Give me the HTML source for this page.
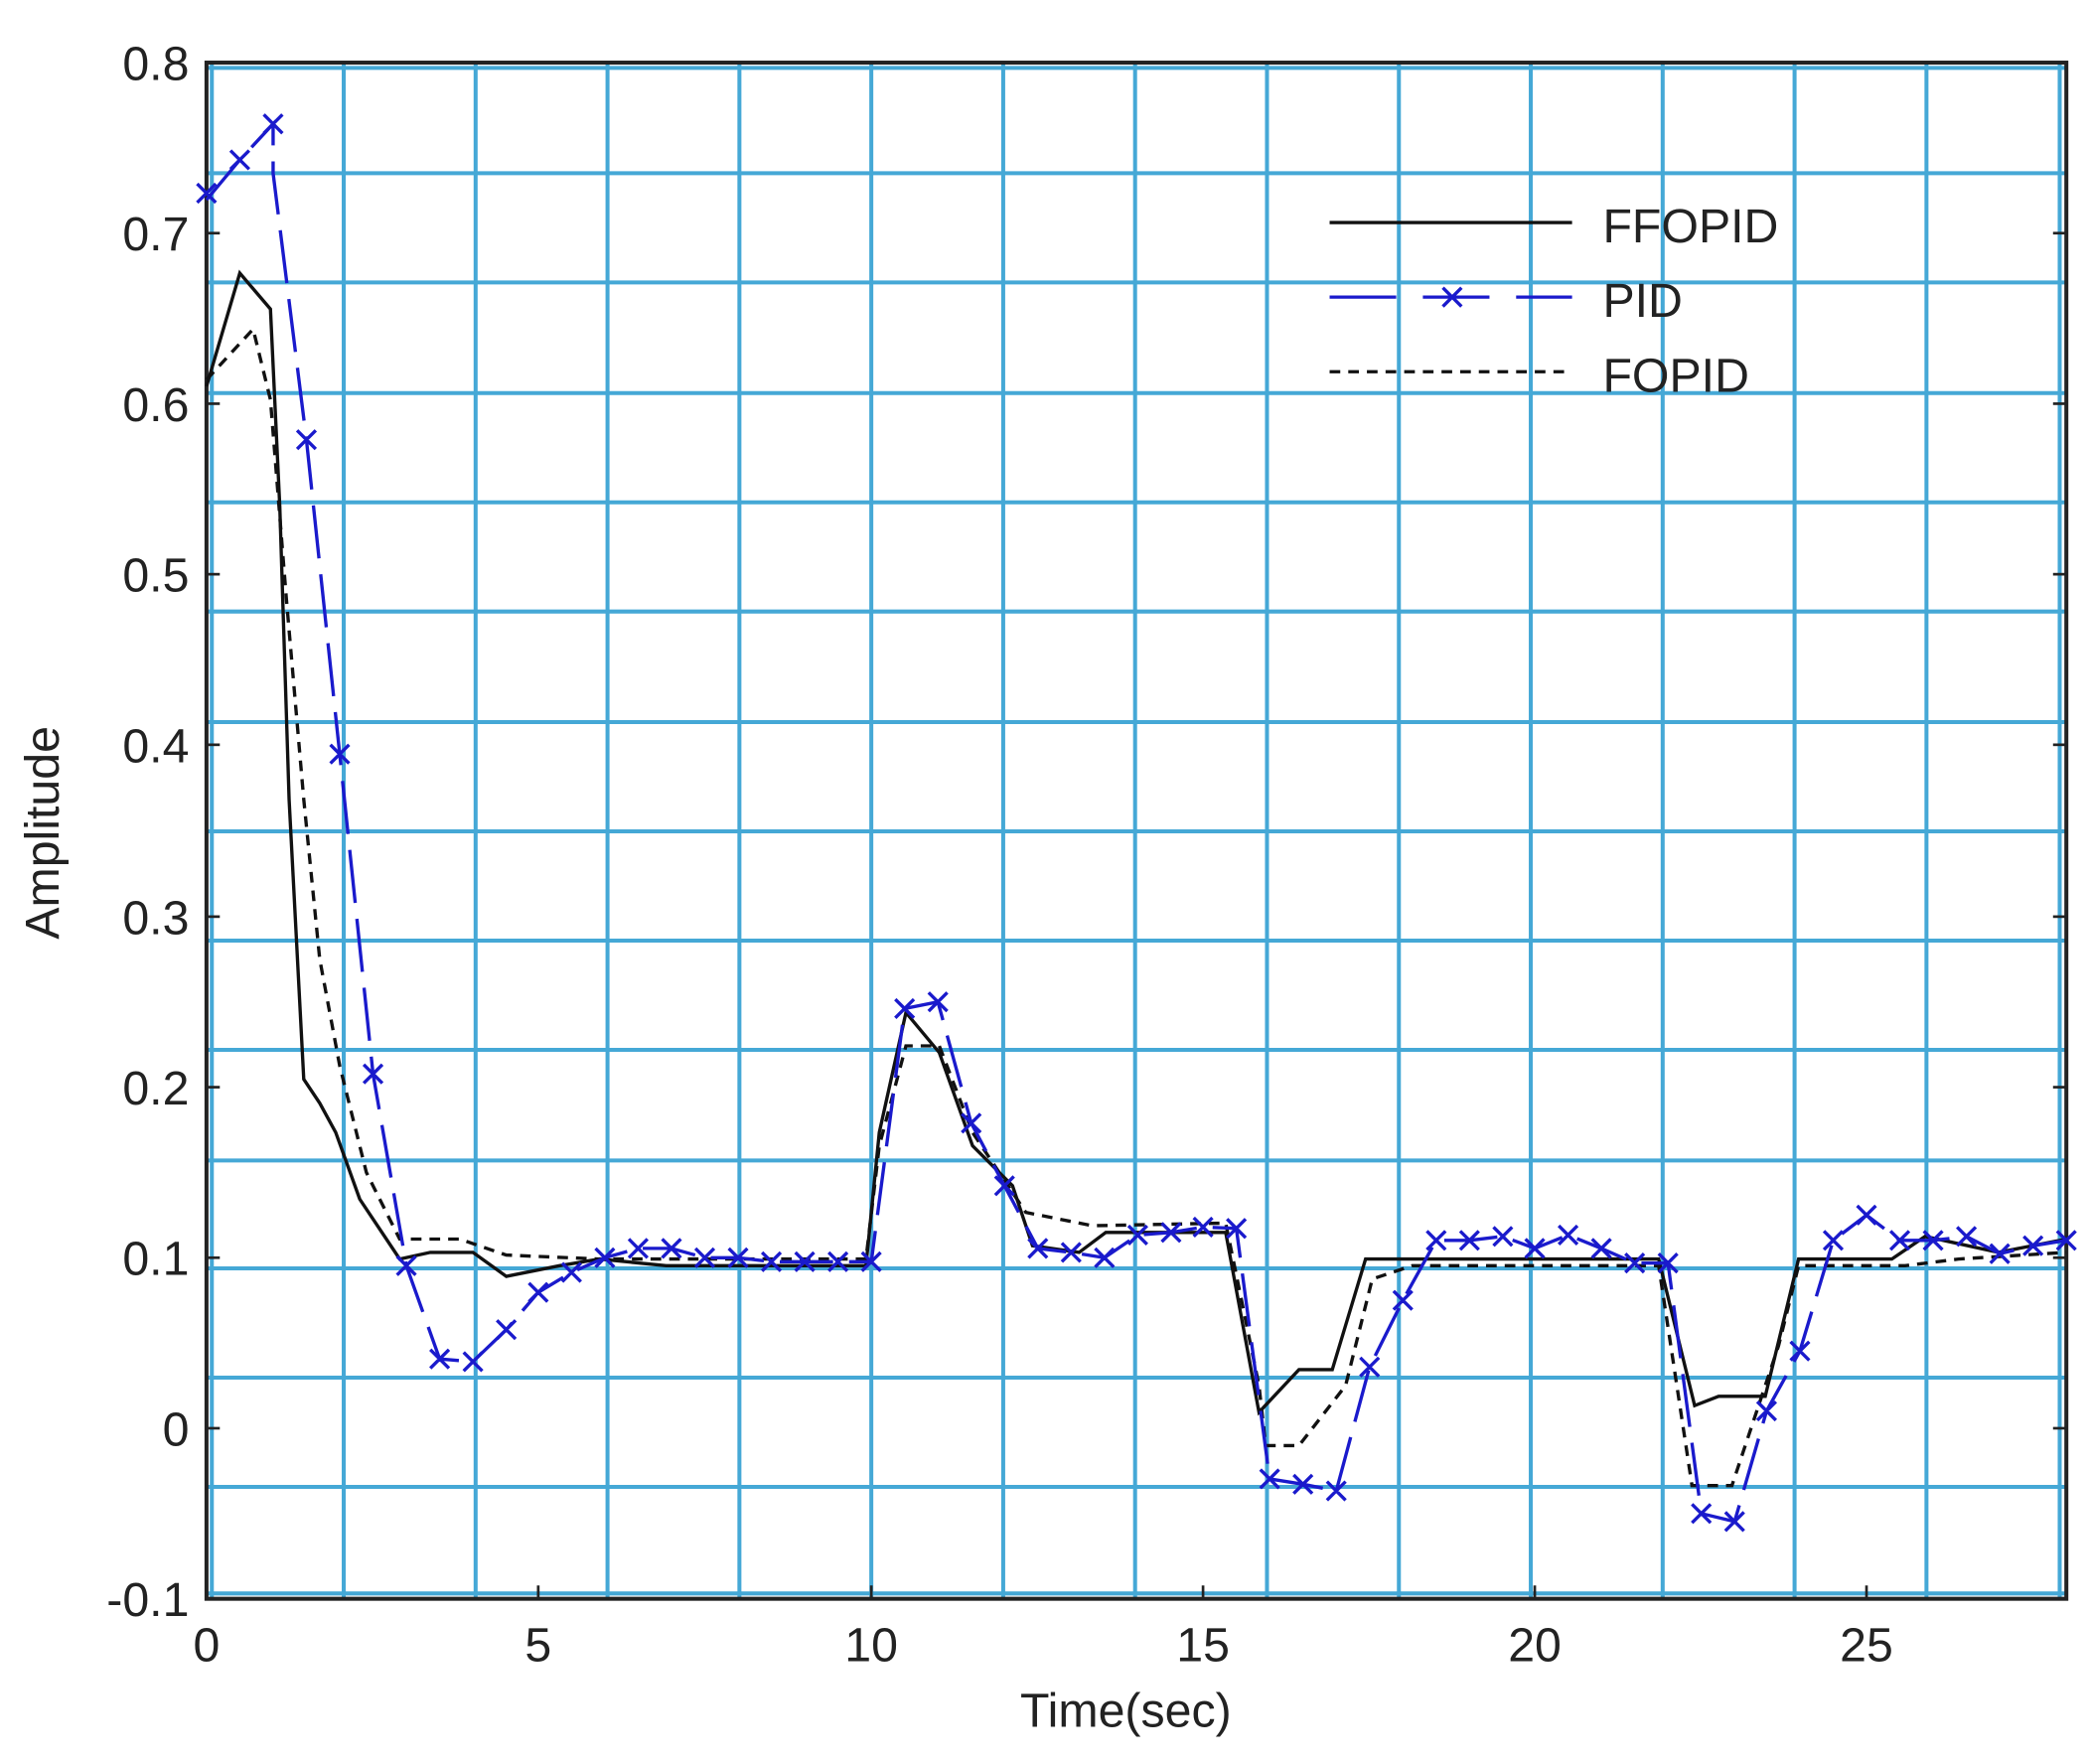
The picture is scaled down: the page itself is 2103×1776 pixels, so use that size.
<!DOCTYPE html>
<html><head><meta charset="utf-8"><style>html,body{margin:0;padding:0;background:#fff}svg{display:block}</style></head>
<body>
<svg width="2103" height="1776" viewBox="0 0 1568 1324" preserveAspectRatio="none" xmlns="http://www.w3.org/2000/svg" font-family="Liberation Sans, Arial, sans-serif">
<rect width="1568" height="1324" fill="#fff"/>
<g stroke="#45a8d6" stroke-width="3">
<line x1="258" y1="47" x2="258" y2="1200"/><line x1="357" y1="47" x2="357" y2="1200"/><line x1="456" y1="47" x2="456" y2="1200"/><line x1="555" y1="47" x2="555" y2="1200"/><line x1="654" y1="47" x2="654" y2="1200"/><line x1="753" y1="47" x2="753" y2="1200"/><line x1="852" y1="47" x2="852" y2="1200"/><line x1="951" y1="47" x2="951" y2="1200"/><line x1="1050" y1="47" x2="1050" y2="1200"/><line x1="1149" y1="47" x2="1149" y2="1200"/><line x1="1248" y1="47" x2="1248" y2="1200"/><line x1="1347" y1="47" x2="1347" y2="1200"/><line x1="1446" y1="47" x2="1446" y2="1200"/><line x1="159" y1="47" x2="159" y2="1200"/><line x1="1546" y1="47" x2="1546" y2="1200"/>
<line x1="155" y1="130" x2="1551" y2="130"/><line x1="155" y1="212" x2="1551" y2="212"/><line x1="155" y1="295" x2="1551" y2="295"/><line x1="155" y1="377" x2="1551" y2="377"/><line x1="155" y1="459" x2="1551" y2="459"/><line x1="155" y1="542" x2="1551" y2="542"/><line x1="155" y1="624" x2="1551" y2="624"/><line x1="155" y1="706" x2="1551" y2="706"/><line x1="155" y1="788" x2="1551" y2="788"/><line x1="155" y1="871" x2="1551" y2="871"/><line x1="155" y1="952" x2="1551" y2="952"/><line x1="155" y1="1034" x2="1551" y2="1034"/><line x1="155" y1="1116" x2="1551" y2="1116"/><line x1="155" y1="51" x2="1551" y2="51"/><line x1="155" y1="1196" x2="1551" y2="1196"/>
</g>
<rect x="155" y="47" width="1396" height="1153" fill="none" stroke="#222" stroke-width="3"/>
<g stroke="#222" stroke-width="2">
<line x1="155" y1="175" x2="165" y2="175"/><line x1="155" y1="303" x2="165" y2="303"/><line x1="155" y1="431" x2="165" y2="431"/><line x1="155" y1="559" x2="165" y2="559"/><line x1="155" y1="688" x2="165" y2="688"/><line x1="155" y1="816" x2="165" y2="816"/><line x1="155" y1="944" x2="165" y2="944"/><line x1="155" y1="1072" x2="165" y2="1072"/>
<line x1="404" y1="1200" x2="404" y2="1190"/><line x1="654" y1="1200" x2="654" y2="1190"/><line x1="903" y1="1200" x2="903" y2="1190"/><line x1="1152" y1="1200" x2="1152" y2="1190"/><line x1="1401" y1="1200" x2="1401" y2="1190"/>
<line x1="1551" y1="175" x2="1541" y2="175"/><line x1="1551" y1="303" x2="1541" y2="303"/><line x1="1551" y1="431" x2="1541" y2="431"/><line x1="1551" y1="559" x2="1541" y2="559"/><line x1="1551" y1="688" x2="1541" y2="688"/><line x1="1551" y1="816" x2="1541" y2="816"/><line x1="1551" y1="944" x2="1541" y2="944"/><line x1="1551" y1="1072" x2="1541" y2="1072"/>
</g>
<g font-size="36" fill="#222" text-anchor="end">
<text x="142" y="60">0.8</text><text x="142" y="188">0.7</text><text x="142" y="316">0.6</text><text x="142" y="444">0.5</text><text x="142" y="572">0.4</text><text x="142" y="701">0.3</text><text x="142" y="829">0.2</text><text x="142" y="957">0.1</text><text x="142" y="1085">0</text><text x="142" y="1213">-0.1</text>
</g>
<g font-size="36" fill="#222" text-anchor="middle">
<text x="155" y="1247">0</text><text x="404" y="1247">5</text><text x="654" y="1247">10</text><text x="903" y="1247">15</text><text x="1152" y="1247">20</text><text x="1401" y="1247">25</text>
<text x="845" y="1296">Time(sec)</text>
<text transform="translate(44,625) rotate(-90)">Amplitude</text>
</g>
<polyline fill="none" stroke="#111" stroke-width="2.5" points="155,290 180,205 203,232 210,380 217,600 228,810 240,828 252,850 270,900 300,945 323,940 355,940 380,958 420,950 450,945 500,950 650,950 660,850 680,760 705,790 730,860 760,890 775,935 810,940 830,925 920,925 945,1060 975,1028 1000,1028 1025,945 1050,945 1245,945 1272,1055 1290,1048 1325,1048 1350,945 1420,945 1445,928 1500,940 1551,930"/>
<polyline fill="none" stroke="#111" stroke-width="2.5" stroke-dasharray="8,6" points="155,285 190,247 203,300 215,450 228,600 240,720 255,800 275,880 300,930 345,930 380,942 450,945 650,945 660,860 680,785 705,785 730,850 770,910 820,920 920,918 945,1040 950,1085 975,1085 1010,1040 1030,960 1060,950 1245,950 1270,1115 1300,1115 1335,1010 1350,950 1430,950 1470,945 1551,940"/>
<polyline fill="none" stroke="#1a1acc" stroke-width="2.5" stroke-dasharray="40,12" points="155,150 180,120 205,93 205,130 230,330 255,566 280,806 305,950 330,1020 355,1022 380,998 404,970 429,955 454,944 479,937 504,937 529,944 554,944 579,947 604,947 629,947 654,947 679,757 704,752 729,843 754,890 779,937 804,940 829,944 854,927 879,925 903,921 928,922 953,1110 978,1114 1003,1119 1028,1026 1053,976 1078,931 1103,931 1128,928 1152,937 1177,927 1202,937 1227,948 1252,948 1277,1136 1302,1142 1326,1059 1351,1014 1376,931 1401,912 1426,931 1451,931 1476,928 1501,941 1526,935 1551,931"/>
<g fill="none" stroke="#1a1acc" stroke-width="2.5">
<path d="M148,138l14,14M162,138l-14,14M173,113l14,14M187,113l-14,14M198,86l14,14M212,86l-14,14M223,323l14,14M237,323l-14,14M248,559l14,14M262,559l-14,14M273,799l14,14M287,799l-14,14M298,943l14,14M312,943l-14,14M323,1013l14,14M337,1013l-14,14M348,1015l14,14M362,1015l-14,14M373,991l14,14M387,991l-14,14M397,963l14,14M411,963l-14,14M422,948l14,14M436,948l-14,14M447,937l14,14M461,937l-14,14M472,930l14,14M486,930l-14,14M497,930l14,14M511,930l-14,14M522,937l14,14M536,937l-14,14M547,937l14,14M561,937l-14,14M572,940l14,14M586,940l-14,14M597,940l14,14M611,940l-14,14M622,940l14,14M636,940l-14,14M647,940l14,14M661,940l-14,14M672,750l14,14M686,750l-14,14M697,745l14,14M711,745l-14,14M722,836l14,14M736,836l-14,14M747,883l14,14M761,883l-14,14M772,930l14,14M786,930l-14,14M797,933l14,14M811,933l-14,14M822,937l14,14M836,937l-14,14M847,920l14,14M861,920l-14,14M872,918l14,14M886,918l-14,14M896,914l14,14M910,914l-14,14M921,915l14,14M935,915l-14,14M946,1103l14,14M960,1103l-14,14M971,1107l14,14M985,1107l-14,14M996,1112l14,14M1010,1112l-14,14M1021,1019l14,14M1035,1019l-14,14M1046,969l14,14M1060,969l-14,14M1071,924l14,14M1085,924l-14,14M1096,924l14,14M1110,924l-14,14M1121,921l14,14M1135,921l-14,14M1145,930l14,14M1159,930l-14,14M1170,920l14,14M1184,920l-14,14M1195,930l14,14M1209,930l-14,14M1220,941l14,14M1234,941l-14,14M1245,941l14,14M1259,941l-14,14M1270,1129l14,14M1284,1129l-14,14M1295,1135l14,14M1309,1135l-14,14M1319,1052l14,14M1333,1052l-14,14M1344,1007l14,14M1358,1007l-14,14M1369,924l14,14M1383,924l-14,14M1394,905l14,14M1408,905l-14,14M1419,924l14,14M1433,924l-14,14M1444,924l14,14M1458,924l-14,14M1469,921l14,14M1483,921l-14,14M1494,934l14,14M1508,934l-14,14M1519,928l14,14M1533,928l-14,14M1544,924l14,14M1558,924l-14,14"/>
</g>
<line x1="998" y1="167" x2="1180" y2="167" stroke="#111" stroke-width="2.5"/>
<line x1="998" y1="223" x2="1180" y2="223" stroke="#1a1acc" stroke-width="2.5" stroke-dasharray="50,20"/>
<path d="M1083,216l14,14M1097,216l-14,14" stroke="#1a1acc" stroke-width="2.5"/>
<line x1="998" y1="279" x2="1180" y2="279" stroke="#111" stroke-width="2.5" stroke-dasharray="8,6"/>
<g font-size="36" fill="#222"><text x="1203" y="182">FFOPID</text><text x="1203" y="238">PID</text><text x="1203" y="294">FOPID</text></g>
</svg>
</body></html>
